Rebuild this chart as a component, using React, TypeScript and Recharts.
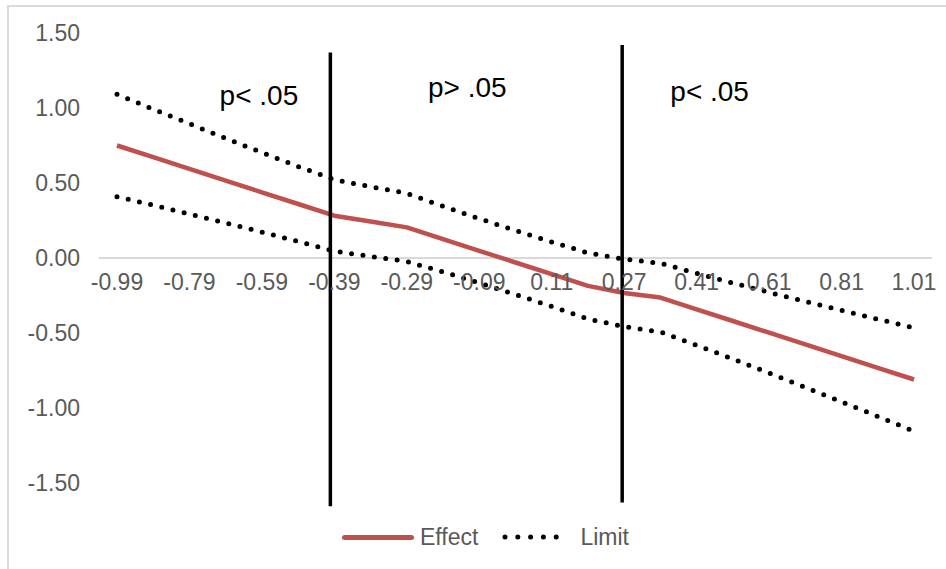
import React from "react";
import { LineChart, Line, XAxis, YAxis, ReferenceLine, ReferenceDot } from "recharts";

// moderator values (category axis, every other one labelled)
const categories = [
  "-0.99", "-0.89", "-0.79", "-0.69", "-0.59", "-0.49", "-0.39", "-0.34",
  "-0.29", "-0.19", "-0.09", "0.01", "0.11", "0.21", "0.27", "0.31",
  "0.41", "0.51", "0.61", "0.71", "0.81", "0.91", "1.01",
];
const tickLabels = [
  "-0.99", "-0.79", "-0.59", "-0.39", "-0.29", "-0.09",
  "0.11", "0.27", "0.41", "0.61", "0.81", "1.01",
];

const effect = [
  0.75, 0.672, 0.594, 0.516, 0.438, 0.36, 0.282, 0.243, 0.204, 0.126, 0.048, -0.03,
  -0.108, -0.186, -0.233, -0.264, -0.342, -0.42, -0.498, -0.576, -0.654, -0.732, -0.81,
];
const upperLimit = [
  1.091, 0.992, 0.895, 0.798, 0.703, 0.61, 0.522, 0.475, 0.431, 0.345, 0.262, 0.183,
  0.107, 0.034, -0.008, -0.035, -0.102, -0.167, -0.229, -0.29, -0.349, -0.408, -0.465,
];
const lowerLimit = [
  0.409, 0.352, 0.293, 0.234, 0.173, 0.11, 0.045, 0.011, -0.023, -0.093, -0.166, -0.243,
  -0.323, -0.406, -0.458, -0.493, -0.582, -0.673, -0.767, -0.862, -0.959, -1.056, -1.155,
];

const yTicks = [1.5, 1, 0.5, 0, -0.5, -1, -1.5];

// hand-drawn region boundaries and notes
const boundaries = [
  { x: "-0.39", top: 1.37, bottom: -1.655, dx: -4 },
  { x: "0.27", top: 1.42, bottom: -1.63, dx: -2 },
];
const regionNotes = [
  { x: "-0.59", y: 1.087, dx: -3, text: "p< .05" },
  { x: "-0.09", y: 1.137, dx: -12, text: "p> .05" },
  { x: "0.41", y: 1.11, dx: 13, text: "p< .05" },
];

const rows = categories.map((x, i) => ({
  x,
  effect: effect[i],
  upper: upperLimit[i],
  lower: lowerLimit[i],
}));

const W = 946;
const H = 569;
const PLOT_TOP = 33;
const PLOT_H = 450;
const ZERO_Y = PLOT_TOP + PLOT_H / 2;
const GREY = "#595959";
const RED = "#c0504d";
const FONT = "'Liberation Sans', Arial, Helvetica, sans-serif";

// x tick labels sit just under the zero line, like Excel's crossing axis
const ZeroTick = (props: any) => {
  const { x, payload } = props;
  return (
    <text x={x} y={ZERO_Y + 23.5} dy="0.355em" textAnchor="middle" fill={GREY} fontSize={23}>
      {payload.value}
    </text>
  );
};

const NoteLabel = (dx: number, text: string) => (props: any) => {
  const { viewBox } = props;
  const cx = viewBox.x + viewBox.width / 2 + dx;
  const cy = viewBox.y + viewBox.height / 2;
  return (
    <text x={cx} y={cy} dy="0.355em" textAnchor="middle" fill="#000" fontSize={28}>
      {text}
    </text>
  );
};

const BoundaryShape = (dx: number) => (props: any) => {
  const { x1, y1, x2, y2 } = props;
  return <line x1={x1 + dx} y1={y1} x2={x2 + dx} y2={y2} stroke="#000" strokeWidth={3.5} />;
};

export default function App() {
  return (
    <div style={{ position: "relative", width: W, height: H, fontFamily: FONT, background: "#fff", overflow: "hidden" }}>
      <style>{"body{margin:0;overflow:hidden}"}</style>
      <div
        style={{
          position: "absolute",
          left: 7,
          top: 5,
          right: -4,
          bottom: -4,
          borderTop: "2px solid #dadada",
          borderLeft: "2px solid #dadada",
        }}
      />
      <div style={{ position: "absolute", left: 0, top: 0 }}>
        <LineChart width={W} height={H} data={rows} margin={{ top: PLOT_TOP, right: 14, bottom: H - PLOT_TOP - PLOT_H - 1, left: 0 }}>
          <XAxis
            dataKey="x"
            type="category"
            ticks={tickLabels}
            interval={0}
            height={1}
            padding={{ left: 18, right: 18 }}
            axisLine={false}
            tickLine={false}
            tick={<ZeroTick />}
          />
          <YAxis
            width={99}
            domain={[-1.5, 1.5]}
            ticks={yTicks}
            interval={0}
            axisLine={false}
            tickLine={false}
            tickSize={0}
            tickMargin={19}
            tickFormatter={(v: number) => v.toFixed(2)}
            tick={{ fill: GREY, fontSize: 23 }}
          />
          <ReferenceLine y={0} stroke="#d9d9d9" strokeWidth={2} />
          <Line
            dataKey="upper"
            stroke="#000"
            strokeWidth={5}
            strokeDasharray="0 11.5"
            strokeLinecap="round"
            dot={false}
            isAnimationActive={false}
          />
          <Line
            dataKey="lower"
            stroke="#000"
            strokeWidth={5}
            strokeDasharray="0 11.5"
            strokeLinecap="round"
            dot={false}
            isAnimationActive={false}
          />
          <Line
            dataKey="effect"
            stroke={RED}
            strokeWidth={4.5}
            strokeLinejoin="round"
            dot={false}
            isAnimationActive={false}
          />
          {boundaries.map((b) => (
            <ReferenceLine
              key={b.x}
              segment={[
                { x: b.x, y: b.top },
                { x: b.x, y: b.bottom },
              ]}
              ifOverflow="visible"
              shape={BoundaryShape(b.dx)}
            />
          ))}
          {regionNotes.map((n, i) => (
            <ReferenceDot
              key={i}
              x={n.x}
              y={n.y}
              r={1}
              fill="none"
              stroke="none"
              label={NoteLabel(n.dx, n.text)}
            />
          ))}
        </LineChart>
      </div>
      <div
        style={{
          position: "absolute",
          left: 342,
          top: 525,
          height: 24,
          display: "flex",
          alignItems: "center",
          fontSize: 23,
          color: GREY,
        }}
      >
        <span style={{ width: 72, height: 5, background: RED, borderRadius: 3, display: "inline-block" }} />
        <span style={{ marginLeft: 6 }}>Effect</span>
        <svg width={70} height={10} style={{ marginLeft: 24 }}>
          <line x1={3} y1={5} x2={67} y2={5} stroke="#000" strokeWidth={5} strokeLinecap="round" strokeDasharray="0 12.8" />
        </svg>
        <span style={{ marginLeft: 8 }}>Limit</span>
      </div>
    </div>
  );
}
